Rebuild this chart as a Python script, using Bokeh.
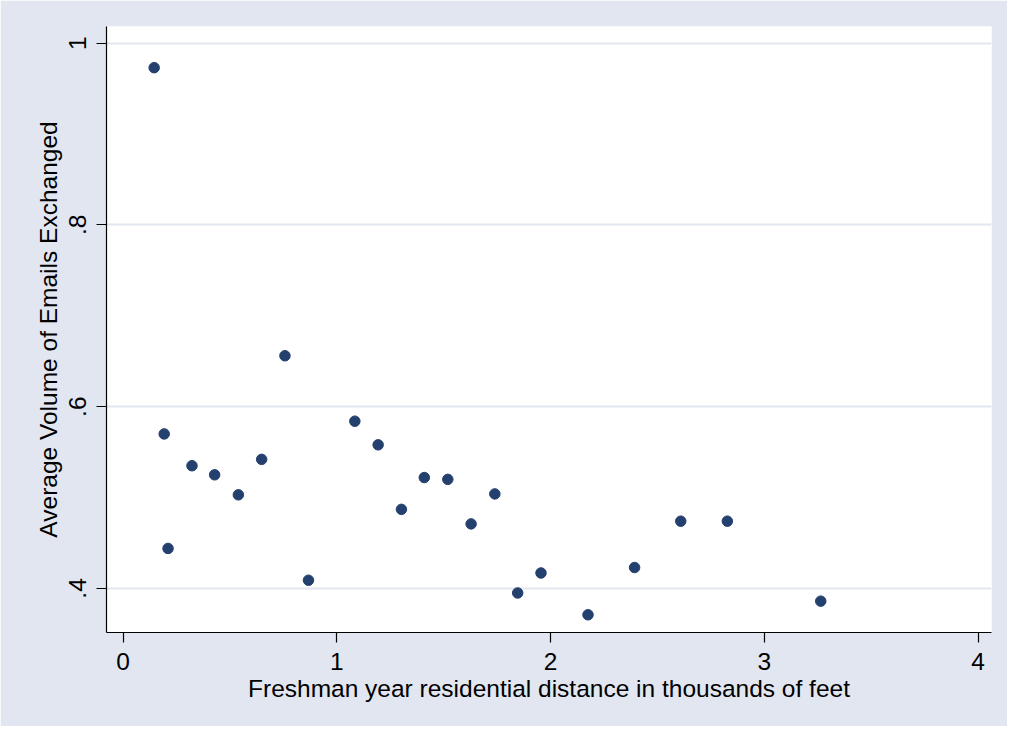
from bokeh.plotting import figure
from bokeh.models import Range1d, FixedTicker
from bokeh.embed import file_html
from bokeh.resources import INLINE

# Data
distance_k_ft = [0.145, 0.192, 0.210, 0.322, 0.428, 0.539, 0.648, 0.757, 0.867,
                 1.084, 1.193, 1.302, 1.409, 1.519, 1.628, 1.739, 1.846, 1.955,
                 2.175, 2.393, 2.609, 2.827, 3.264]
avg_emails = [0.973, 0.570, 0.444, 0.535, 0.525, 0.503, 0.542, 0.656, 0.409,
              0.584, 0.558, 0.487, 0.522, 0.520, 0.471, 0.504, 0.395, 0.417,
              0.371, 0.423, 0.474, 0.474, 0.386]
x_ticks = [0, 1, 2, 3, 4]
y_ticks = [0.4, 0.6, 0.8, 1.0]
y_tick_labels = [".4", ".6", ".8", "1"]
x_title = "Freshman year residential distance in thousands of feet"
y_title = "Average Volume of Emails Exchanged"

BG = "#e2e6f0"
FONT = "Liberation Sans"
FS = "24.5px"

p = figure(width=1007, height=726, output_backend="svg", toolbar_location=None,
           x_range=Range1d(-0.078, 4.063), y_range=Range1d(0.3515, 1.0183),
           min_border_left=106, min_border_right=16, min_border_top=26,
           min_border_bottom=94)

p.background_fill_color = "white"
p.border_fill_color = BG
p.outline_line_color = None

p.scatter(distance_k_ft, avg_emails, size=10.5, marker="circle",
          fill_color="#24406e", line_color="#24406e")

p.xaxis.ticker = FixedTicker(ticks=x_ticks)
p.yaxis.ticker = FixedTicker(ticks=y_ticks)
p.yaxis.major_label_overrides = {t: l for t, l in zip(y_ticks, y_tick_labels)}
p.yaxis.major_label_orientation = "vertical"

p.xaxis.axis_label = x_title
p.yaxis.axis_label = y_title

for ax in (p.xaxis[0], p.yaxis[0]):
    ax.axis_line_color = "black"
    ax.axis_line_width = 1.2
    ax.major_tick_line_color = "black"
    ax.major_tick_line_width = 1.2
    ax.major_tick_out = 10
    ax.major_tick_in = 0
    ax.minor_tick_line_color = None
    ax.major_label_text_font = FONT
    ax.major_label_text_font_size = FS
    ax.major_label_text_color = "black"
    ax.axis_label_text_font = FONT
    ax.axis_label_text_font_size = FS
    ax.axis_label_text_font_style = "normal"
    ax.axis_label_text_color = "black"

p.xaxis.major_label_standoff = 10
p.xaxis.axis_label_standoff = 2
p.yaxis.major_label_standoff = 10
p.yaxis.axis_label_standoff = 5

p.xgrid.grid_line_color = None
p.ygrid.grid_line_color = BG
p.ygrid.grid_line_width = 2

open("out.html", "w").write(file_html(p, INLINE))
